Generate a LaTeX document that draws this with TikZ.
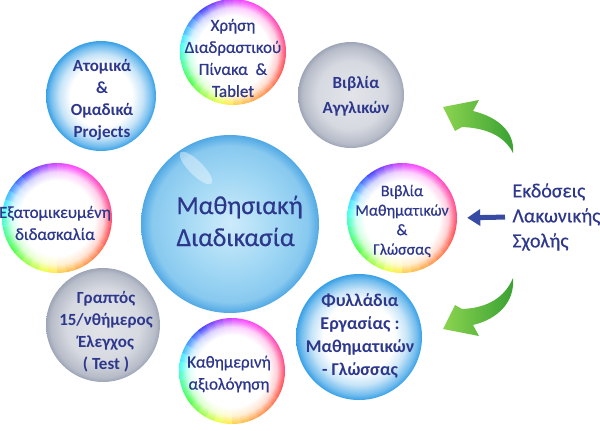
\documentclass[tikz,border=0pt]{standalone}
\usepackage{fontspec}
\setmainfont{Carlito}
\newfontfamily\medfont{Carlito}[FakeBold=0.5]
\usetikzlibrary{arrows.meta}
\definecolor{txtblue}{RGB}{45,55,140}
\definecolor{bubblue}{RGB}{55,160,230}
\definecolor{bubgray}{RGB}{158,165,182}
\definecolor{cenlight}{RGB}{205,235,250}
\definecolor{cenmid}{RGB}{160,215,244}
\definecolor{cenedge}{RGB}{80,168,228}
\definecolor{arrowblue}{RGB}{55,75,165}
\definecolor{greenlight}{RGB}{140,212,80}
\definecolor{greendark}{RGB}{55,160,50}
\colorlet{rimcol}{red}
\pgfdeclareradialshading[rimcol]{rainbowrim}{\pgfpoint{0bp}{0bp}}{color(0bp)=(white); color(17bp)=(white); color(21bp)=(rimcol!25); color(23.5bp)=(rimcol!75); color(25bp)=(rimcol); color(50bp)=(rimcol)}
\pgfdeclareradialshading{bluerim}{\pgfpoint{0bp}{0bp}}{color(0bp)=(white); color(14bp)=(white); color(19bp)=(bubblue!28); color(23bp)=(bubblue!70); color(25bp)=(bubblue); color(50bp)=(bubblue)}
\pgfdeclareradialshading{grayrim}{\pgfpoint{0bp}{0bp}}{color(0bp)=(bubgray!30); color(16bp)=(bubgray!42); color(23bp)=(bubgray!75); color(25bp)=(bubgray); color(50bp)=(bubgray)}
\pgfdeclareradialshading{mainball}{\pgfpoint{0bp}{0bp}}{color(0bp)=(cenlight); color(14bp)=(cenmid); color(22bp)=(cenmid!70!cenedge); color(25bp)=(cenedge); color(50bp)=(cenedge)}
\tikzset{
  ball/.style={circle, inner sep=0pt, minimum size=2*#1},
  rainbowball/.style={ball=#1, fill=white, path picture={
      \foreach \a in {0,10,...,350}{
        \pgfmathsetmacro\th{mod(625-\a,360)+90}
        \pgfmathsetmacro\hu{\th<270 ? 0.8-(\th-90)*0.67/180 : 0.13-(\th-270)*0.33/180}
        \pgfmathsetmacro\hu{\hu<0 ? \hu+1 : \hu}
        \definecolor{rimcol}{hsb}{\hu,0.72,1}
        \begin{scope}
          \clip (path picture bounding box.center) -- +(\a:1.2*#1) -- +(\a+10.5:1.2*#1) -- cycle;
          \shade[shading=rainbowrim] (path picture bounding box.center) circle[radius=#1pt];
        \end{scope}
      }}},
  blueball/.style={ball=#1, shade, shading=bluerim},
  grayball/.style={ball=#1, shade, shading=grayrim},
  centerball/.style={ball=#1, shade, shading=mainball},
  lbl/.style={text=txtblue, align=center, font=\medfont\fontsize{17}{22}\selectfont},
  boldlbl/.style={lbl, font=\bfseries\fontsize{17}{22}\selectfont},
  srcarrow/.style={arrowblue, line width=5pt, -{Triangle[length=13pt,width=16pt]}, shorten <=4pt, shorten >=10pt},
  greenarrow/.style={left color=greenlight, right color=greendark}
}
\begin{document}
\begin{tikzpicture}[x=1pt,y=-1pt]
\useasboundingbox (0,0) rectangle (600,431);
% bubbles
\node[rainbowball=53] (bTab) at (233,52) {};
\node[grayball=53] (bEng) at (351,95) {};
\node[blueball=55] (bProj) at (101,96) {};
\node[rainbowball=55] (bInd) at (57,218) {};
\node[centerball=89] (bMain) at (230,224) {};
\node[rainbowball=55] (bBooks) at (402,218) {};
\node[grayball=57] (bTest) at (103,325) {};
\node[rainbowball=53] (bDaily) at (232,371) {};
\node[blueball=63] (bSheets) at (359,337) {};
\fill[white, opacity=0.4, rotate around={-45:(196,168)}] (196,168) ellipse [x radius=22, y radius=7];
% texts
\node[lbl] (tTab) at (233,58) {Χρήση\\Διαδραστικού\\Πίνακα~~\&\\Tablet};
\node[boldlbl, font=\bfseries\fontsize{17}{25}\selectfont] (tEng) at (356,96) {Βιβλία\\Αγγλικών};
\node[boldlbl] (tProj) at (102,100) {Ατομικά\\\&\\Ομαδικά\\Projects};
\node[lbl] (tInd) at (55,223) {Εξατομικευμένη\\διδασκαλία};
\node[lbl, font=\medfont\fontsize{16}{19.5}\selectfont] (tBooks) at (402,221) {Βιβλία\\Μαθηματικών\\\&\\Γλώσσας};
\node[boldlbl] (tTest) at (106,332) {Γραπτός\\15/νθήμερος\\Έλεγχος\\( Test )};
\node[lbl] (tDaily) at (229,374) {Καθημερινή\\αξιολόγηση};
\node[boldlbl, font=\bfseries\fontsize{18}{23}\selectfont] (tSheets) at (360,336) {Φυλλάδια\\Εργασίας :\\Μαθηματικών\\- Γλώσσας};
\node[lbl, align=left, anchor=west, font=\medfont\fontsize{26}{32}\selectfont] (tMain) at (173,221) {Μαθησιακή\\Διαδικασία};
\node[lbl, align=left, anchor=west, font=\medfont\fontsize{20}{25}\selectfont] (src) at (509,217) {Εκδόσεις\\Λακωνικής\\Σχολής};
% arrows
\draw[srcarrow] (src.west) -- (bBooks.east);
\shade[greenarrow] (443,107) -- (479,100) -- (473,111) .. controls (498,117) and (515,132) .. (513,153)
  .. controls (505,137) and (488,128) .. (462,127) -- (455,131) -- cycle;
\shade[greenarrow] (443,329) -- (479,336) -- (473,325) .. controls (498,319) and (515,302) .. (513,278)
  .. controls (505,297) and (488,308) .. (462,309) -- (455,305) -- cycle;
\end{tikzpicture}
\end{document}
